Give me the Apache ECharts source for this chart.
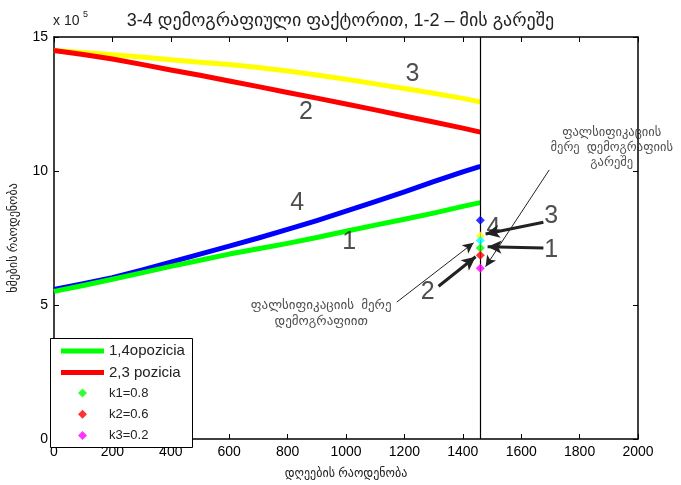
<!DOCTYPE html>
<html><head><meta charset="utf-8">
<script src="https://cdn.jsdelivr.net/npm/echarts/dist/echarts.min.js"></script>
<style>html,body{margin:0;padding:0;background:#fff}#c{width:681px;height:485px}</style>
</head><body><div id="c"></div><script>
// ---- data (vote counts in units of 10^5) ----
const days = [0,100,200,300,400,500,600,700,800,900,1000,1100,1200,1300,1400,1460];
const line1 = [5.51,5.73,5.96,6.20,6.44,6.67,6.90,7.10,7.30,7.52,7.75,7.98,8.20,8.43,8.68,8.82]; // green
const line2 = [14.5,14.35,14.18,13.98,13.77,13.57,13.36,13.15,12.93,12.72,12.50,12.28,12.05,11.83,11.60,11.45]; // red
const line3 = [14.5,14.42,14.34,14.25,14.15,14.06,13.97,13.86,13.73,13.58,13.42,13.25,13.08,12.90,12.71,12.58]; // yellow
const line4 = [5.58,5.79,6.02,6.30,6.60,6.90,7.20,7.50,7.82,8.15,8.50,8.86,9.22,9.60,9.97,10.17]; // blue
const markDay = 1460;
const markBlue = 8.16, markYellow = 7.57, markCyan = 7.41;
const k1 = 7.13, k2 = 6.86, k3 = 6.37;
const xTicks = [0,2000,200];
const yTicks = [0,15,5];
const titleText = '3-4 დემოგრაფიული ფაქტორით, 1-2 – მის გარეშე';
const xName = 'დღეების რაოდენობა';
const yName = 'ხმების რაოდენობა';
const curveLabels = [['3',1228,13.6],['2',863,12.2],['4',833,8.82],['1',1011,7.35],
                     ['4',1505,7.87],['3',1703,8.31],['1',1703,7.06],['2',1280,5.48]];
const noteLabels = [['ფალსიფიკაციის\nმერე  დემოგრაფიის\nგარეშე',1910,10.88,12.5],
                    ['ფალსიფიკაციის  მერე\nდემოგრაფიით',915,4.67,13]];
const arrows = [ // [x1,y1,x2,y2,width]
  [1174,5.11,1437,7.32,1],
  [1317,5.70,1444,6.80,3],
  [1676,8.09,1478,7.65,3],
  [1676,7.13,1485,7.17,3],
  [1696,10.04,1478,6.43,1]
];

const FONT = "'Liberation Sans','DejaVu Sans',sans-serif";
const pair = a => days.map((d,i)=>[d,a[i]]);
const chart = echarts.init(document.getElementById('c'));
const lineSeries = (name,data,color)=>({
  name, type:'line', data:pair(data), showSymbol:false, symbol:'none',
  lineStyle:{color,width:5,join:'round'}, itemStyle:{color}, z:2, silent:true
});
const pt = (name,y,color)=>({
  name, type:'scatter', data:[[markDay,y]], symbol:'diamond', symbolSize:9,
  itemStyle:{color}, z:6
});
const axisBase = {
  axisLine:{show:true,onZero:false,lineStyle:{color:'#000',width:1.5}},
  axisTick:{show:true,inside:true,length:5,lineStyle:{color:'#000'}},
  splitLine:{show:false}
};
chart.setOption({
  animation:false,
  textStyle:{fontFamily:FONT},
  title:{text:titleText,left:'center',top:7,textStyle:{fontFamily:FONT,fontSize:18,fontWeight:'normal',color:'#222'}},
  grid:{left:52,right:43,top:37,bottom:40},
  xAxis:[Object.assign({
    type:'value',min:xTicks[0],max:xTicks[1],interval:xTicks[2],
    name:xName,nameLocation:'middle',nameGap:29,
    nameTextStyle:{fontFamily:FONT,fontSize:12,color:'#222'},
    axisLabel:{fontFamily:FONT,fontSize:14,color:'#000',margin:6,formatter:v=>String(v)}
  },axisBase),Object.assign({
    type:'value',position:'top',min:xTicks[0],max:xTicks[1],interval:xTicks[2],
    axisLabel:{show:false}
  },axisBase)],
  yAxis:[Object.assign({
    type:'value',min:yTicks[0],max:yTicks[1],interval:yTicks[2],
    name:yName,nameLocation:'middle',nameGap:34,
    nameTextStyle:{fontFamily:FONT,fontSize:12,color:'#222'},
    axisLabel:{fontFamily:FONT,fontSize:14,color:'#000',margin:6}
  },axisBase),Object.assign({
    type:'value',position:'right',min:yTicks[0],max:yTicks[1],interval:yTicks[2],
    axisLabel:{show:false}
  },axisBase)],
  legend:[{
    left:56,top:338,orient:'vertical',itemWidth:43,itemHeight:5,itemGap:5.6,
    data:[{name:'1,4opozicia',icon:'rect'},{name:'2,3 pozicia',icon:'rect'}],
    textStyle:{fontFamily:FONT,fontSize:15,lineHeight:16,color:'#222'},selectedMode:false,z:8
  },{
    left:73,top:381,orient:'vertical',itemWidth:9,itemHeight:9,itemGap:7.3,
    data:[{name:'k1=0.8',icon:'diamond'},{name:'k2=0.6',icon:'diamond'},{name:'k3=0.2',icon:'diamond'}],
    textStyle:{fontFamily:FONT,fontSize:13,lineHeight:14,color:'#222',padding:[0,0,0,17]},selectedMode:false,z:8
  }],
  graphic:[
    {type:'rect',left:50,top:338,shape:{width:142,height:109},style:{fill:'#fff',stroke:'#000',lineWidth:1},z:7},
    {type:'text',left:53,top:14,style:{text:'x 10',font:"14px 'Liberation Sans',sans-serif",fill:'#222'},z:7},
    {type:'text',left:83,top:10,style:{text:'5',font:"9px 'Liberation Sans',sans-serif",fill:'#222'},z:7}
  ],
  series:[
    lineSeries('3',line3,'#ffff00'),
    lineSeries('2,3 pozicia',line2,'#ff0000'),
    lineSeries('4',line4,'#0000ff'),
    lineSeries('1,4opozicia',line1,'#00ff00'),
    {type:'line',data:[],silent:true,
     markLine:{silent:true,symbol:['none','none'],label:{show:false},
       lineStyle:{color:'#000',width:1.2,type:'solid'},
       data:[{xAxis:markDay}]}},
    pt('blue',markBlue,'#0000ff'),
    pt('yellow',markYellow,'#ffff00'),
    pt('cyan',markCyan,'#00ffff'),
    pt('k1=0.8',k1,'#00ff00'),
    pt('k2=0.6',k2,'#ff0000'),
    pt('k3=0.2',k3,'#ff00ff'),
    {type:'line',data:[],silent:true,
     markLine:{silent:true,label:{show:false},symbol:['none','arrow'],
       data:arrows.map(a=>[{coord:[a[0],a[1]],symbol:'none',lineStyle:{color:'#222',width:a[4],type:'solid'}},
                           {coord:[a[2],a[3]],symbol:'arrow',symbolSize:a[4]>1?[10,14]:[8,11]}])}},
    {type:'scatter',symbolSize:0,silent:true,z:9,
     data:curveLabels.map(l=>({value:[l[1],l[2]],name:l[0]})),
     label:{show:true,position:'inside',formatter:p=>p.name,fontFamily:FONT,fontSize:25,color:'#222'}},
    {type:'scatter',symbolSize:0,silent:true,z:9,
     data:noteLabels.map(l=>({value:[l[1],l[2]],name:l[0],
       label:{fontSize:l[3],lineHeight:Math.round(l[3]*1.2)}})),
     label:{show:true,position:'inside',formatter:p=>p.name,fontFamily:FONT,color:'#222',align:'center'}}
  ]
});
</script></body></html>
